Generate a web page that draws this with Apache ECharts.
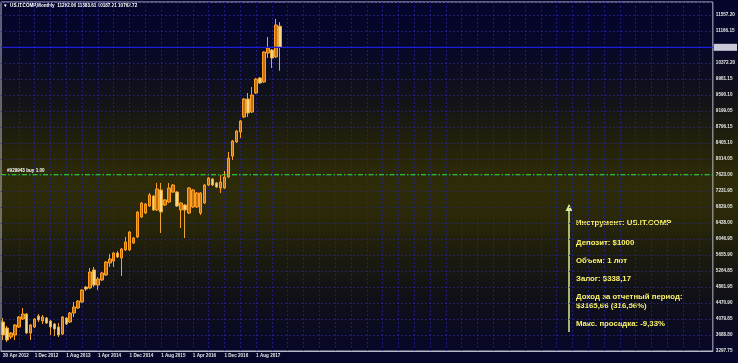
<!DOCTYPE html>
<html><head><meta charset="utf-8">
<script src="https://cdn.jsdelivr.net/npm/echarts@6/dist/echarts.min.js"></script>
<style>
html,body{margin:0;padding:0;}
#c{width:738px;height:363px;background:linear-gradient(to bottom,#05052c 0%,#07072a 12%,#131318 28%,#262408 42%,#2e2c08 50%,#2a2808 60%,#1a190f 72%,#101018 82%,#05052c 100%);}
</style></head>
<body><div id="c"></div>
<script>
const monthNames = ['Jan','Feb','Mar','Apr','May','Jun','Jul','Aug','Sep','Oct','Nov','Dec'];
const opens  = [4011,3863,3642,3691,3888,4084,4207,3740,3888,4158,4035,4109,4035,3961,3888,3716,4109,4011,4232,4355,4502,4871,4846,5289,4920,5043,5166,5461,5510,5707,5584,5781,5781,5953,6100,6592,6690,6862,7108,6764,7256,6887,6960,7206,7206,6764,6887,6690,6838,6838,6690,6936,7378,7526,7428,7305,7305,7575,8091,8436,8681,9050,9492,9173,9640,10009,9910,10623,10697,10525,11282.06];
const closes = [3691,3568,3740,3937,4134,4207,3740,3937,4084,4060,4134,3986,3888,3839,3691,4134,3961,4232,4379,4527,4797,4822,5240,4920,5068,5215,5486,5559,5707,5608,5805,5977,6223,6075,6715,6936,6911,7133,6764,7280,6715,7010,7305,7378,6862,6936,6764,7305,7256,7182,7182,7378,7550,7378,7329,7452,7575,8042,8460,8706,8952,9492,9148,9591,9984,9886,10648,10746,10500,11311,10762.72];
const lows   = [3568,3519,3593,3568,3863,4060,3716,3568,3863,4011,3961,3961,3691,3667,3642,3691,3937,3986,4134,4330,4478,4773,4822,4871,4797,5019,5141,5363,5363,5584,5141,5756,5756,5928,6075,6567,6665,6838,6739,6739,6198,6862,6936,7182,6838,6321,6075,6665,6813,6813,6641,6911,7354,7354,7305,7182,7280,7550,7993,8411,8534,9025,9050,9148,9615,9861,9886,10500,10255,10500,10187.21];
const highs  = [4109,3912,3765,3961,4158,4355,4232,3961,4109,4207,4183,4134,4060,3986,3986,4158,4134,4256,4502,4551,4822,4895,5338,5363,5117,5240,5510,5682,5731,5756,5830,6100,6247,6100,6739,6960,6936,7182,7133,7428,7428,7034,7428,7403,7231,6960,6911,7329,7280,7206,7206,7403,7575,7550,7452,7624,7722,8189,8485,8730,8976,9517,9640,9787,10009,10033,10672,11016,10721,11459,11383.61];
const xTickLabels = ['30 Apr 2012','1 Dec 2012','1 Aug 2013','1 Apr 2014','1 Dec 2014','1 Aug 2015','1 Apr 2016','1 Dec 2016','1 Aug 2017'];
const yTickLabels = ['3297.75','3688.80','4079.85','4470.90','4861.95','5264.85','5655.90','6046.95','6438.00','6829.05','7231.95','7623.00','8014.05','8405.10','8796.15','9199.05','9590.10','9981.15','10372.20','10775.10','11166.15','11557.20'];
const orderPrice = 7630;
const lastPrice = 10762.72;
const orderLabel = '#929943 buy 1.00';
const header = '▼  US.IT.COMP,Monthly  11282.06 11383.61 10187.21 10762.72';
const infoLines = ['Инструмент: US.IT.COMP','Депозит: $1000','Объем: 1 лот','Залог: $338,17','Доход за отчетный период:','$3165,66 (316,56%)','Макс. просадка: -9,33%'];

const totalSlots = 180;
const categories = [];
for (let i = 0; i < totalSlots; i++) {
  if (i < opens.length) {
    const m = (3 + i) % 12, y = 2012 + Math.floor((3 + i) / 12);
    categories.push(monthNames[m] + ' ' + y);
  } else categories.push('');
}
const candles = opens.map((o, i) => [o, closes[i], lows[i], highs[i]]);

const yMin = 3297.75, step = 393.307, steps = 21.8125;
const font = 'Liberation Sans';
const infoFont = 'bold 7.8px "Liberation Sans"';
const infoY = [223, 243, 261, 279, 297, 306, 324];
const chart = echarts.init(document.getElementById('c'));
chart.setOption({
  backgroundColor: 'transparent',
  animation: false,
  grid: {left: 1, right: 25, top: 2, bottom: 12, show: true, borderColor: '#b8b8c8', borderWidth: 1},
  xAxis: [{
    type: 'category', data: categories, boundaryGap: true,
    axisLine: {show: true, lineStyle: {color: '#b8b8c8'}},
    axisTick: {show: false, alignWithLabel: true},
    axisLabel: {
      interval: (idx) => idx % 8 === 0 && idx / 8 < xTickLabels.length,
      formatter: (v, idx) => xTickLabels[idx / 8] || '',
      color: '#e8e8e8', fontSize: 4.6, fontFamily: font, fontWeight: 'bold', align: 'left', margin: 2, hideOverlap: false
    },
    splitLine: {show: true, alignWithLabel: true, interval: (idx) => idx % 4 === 0 && idx > 0, lineStyle: {color: '#22229c', type: [1.5, 2.5], width: 1}}
  }, {
    type: 'value', min: 0, max: 1, show: false, splitLine: {show: false}
  }],
  yAxis: [
    {type: 'value', min: yMin, max: yMin + steps * step, show: false, splitLine: {show: false}},
    {type: 'value', min: 0, max: steps, interval: 1, position: 'right',
     axisLine: {show: false}, axisTick: {show: false},
     axisLabel: {formatter: (v) => (Number.isInteger(v) && yTickLabels[v]) ? yTickLabels[v] : '', color: '#e8e8e8', fontSize: 4.6, fontFamily: font, fontWeight: 'bold', align: 'left', margin: 3, showMaxLabel: false},
     splitLine: {show: true, lineStyle: {color: '#22229c', type: [1.5, 2.5], width: 1}}}
  ],
  series: [
    {
      type: 'candlestick', data: candles, barWidth: 3, z: 5,
      itemStyle: {color: '#c06e12', borderColor: '#ffa020', color0: '#f4d88c', borderColor0: '#eaa634', borderWidth: 1}
    },
    {
      type: 'line', xAxisIndex: 1, yAxisIndex: 0, z: 6, symbol: 'circle', symbolSize: 0, silent: true,
      lineStyle: {color: '#2cf02c', type: [5, 2, 1.5, 2], width: 1.2},
      itemStyle: {color: '#2cf02c'},
      data: [
        {value: [0, orderPrice], label: {show: true, position: 'right', offset: [1, -4], formatter: orderLabel, color: '#ffffff', fontSize: 4.6, fontFamily: font, fontWeight: 'bold'}},
        {value: [1, orderPrice]}
      ]
    },
    {
      type: 'line', xAxisIndex: 1, yAxisIndex: 0, z: 7, symbol: 'circle', symbolSize: 0, silent: true,
      lineStyle: {color: '#1e1ed8', type: 'solid', width: 1.2},
      itemStyle: {color: '#1e1ed8'},
      data: [
        {value: [0, lastPrice]},
        {value: [1, lastPrice], label: {show: true, position: 'right', distance: 1, formatter: '10762.72', color: '#c8c8d6', backgroundColor: '#c8c8d6', fontSize: 4.6, padding: [1, 2]}}
      ]
    }
  ],
  graphic: [
    {type: 'text', left: 3, top: 3, style: {text: header, fill: '#ffffff', font: 'bold 4.6px "Liberation Sans"'}},
    {type: 'line', shape: {x1: 569, y1: 332, x2: 569, y2: 209}, style: {stroke: '#d6ec98', lineWidth: 1.5}},
    {type: 'polygon', shape: {points: [[565.5, 211], [572.5, 211], [569, 204]]}, style: {fill: '#d6ec98'}}
  ].concat(infoLines.map((t, k) => ({type: 'text', x: 576, y: infoY[k], style: {text: t, fill: '#fbf36c', font: infoFont, verticalAlign: 'middle'}})))
});
</script></body></html>
